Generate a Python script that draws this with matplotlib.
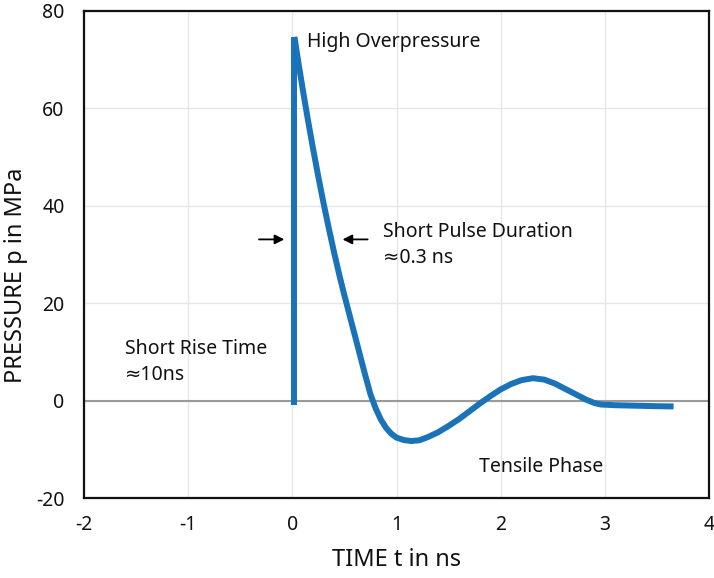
import matplotlib
matplotlib.use("Agg")
import matplotlib.pyplot as plt

# Pressure pulse data (time in ns, pressure in MPa)
rise_t = [0.02, 0.02]
rise_p = [-1.0, 74.7]

pulse_t = [0.02, 0.06, 0.10, 0.15, 0.20, 0.25, 0.30, 0.35, 0.40, 0.45, 0.50,
           0.55, 0.60, 0.65, 0.70, 0.75, 0.80, 0.85, 0.90, 0.95, 1.00, 1.07,
           1.14, 1.22, 1.30, 1.40, 1.50, 1.60, 1.70, 1.80, 1.90, 2.00, 2.10,
           2.20, 2.31, 2.42, 2.52, 2.62, 2.72, 2.82, 2.90, 2.96, 3.10, 3.30,
           3.50, 3.66]
pulse_p = [74.7, 69.2, 63.9, 57.6, 51.6, 45.9, 40.5, 35.4, 30.5, 25.9, 21.6,
           17.5, 13.4, 9.3, 5.2, 1.3, -1.6, -3.9, -5.6, -6.8, -7.6, -8.1,
           -8.3, -8.15, -7.5, -6.5, -5.2, -3.8, -2.2, -0.6, 0.9, 2.3, 3.4,
           4.2, 4.6, 4.3, 3.5, 2.4, 1.3, 0.2, -0.5, -0.8, -0.95, -1.05,
           -1.15, -1.2]

x_ticks = [-2, -1, 0, 1, 2, 3, 4]
y_ticks = [-20, 0, 20, 40, 60, 80]

plt.rcParams['font.family'] = ['Noto Sans', 'DejaVu Sans']

fig = plt.figure(figsize=(7.14, 5.78), dpi=100)
ax = fig.add_axes([84/714, 80/578, (709-84)/714, (498-11)/578])

blue = '#1a73b8'
ax.axhline(0, color='#9a9a9a', lw=1.5, zorder=1)
ax.plot(rise_t, rise_p, color=blue, lw=4.3, solid_capstyle='butt', zorder=3)
ax.plot(pulse_t, pulse_p, color=blue, lw=4.3, solid_joinstyle='round',
        solid_capstyle='butt', zorder=3)

ax.set_xlim(-2, 4)
ax.set_ylim(-20, 80)
ax.set_xticks(x_ticks)
ax.set_yticks(y_ticks)
ax.set_xticklabels([str(v) for v in x_ticks])
ax.set_yticklabels([str(v) for v in y_ticks])
ax.grid(True, color='#e6e6e6', lw=1.0, zorder=0)
ax.set_axisbelow(True)
ax.tick_params(length=0, labelsize=14, pad=12, colors='#111111')
ax.tick_params(axis='y', pad=14)
for s in ax.spines.values():
    s.set_linewidth(1.6)
    s.set_color('#111111')

ax.set_xlabel('TIME t in ns', fontsize=17, color='#111111')
ax.set_ylabel('PRESSURE p in MPa', fontsize=17, color='#111111')
ax.xaxis.set_label_coords(0.5, -0.127)
ax.xaxis.label.set_va('center')
ax.yaxis.set_label_coords(-0.108, 0.458)
ax.yaxis.label.set_va('center')

txt_kw = dict(fontsize=14, color='#111111', va='center', ha='left')
ax.text(0.145, 73.7, 'High Overpressure', **txt_kw)
ax.text(0.87, 32.0, 'Short Pulse Duration\n≈0.3 ns', linespacing=1.4, **txt_kw)
ax.text(-1.61, 8.0, 'Short Rise Time\n≈10ns', linespacing=1.4, **txt_kw)
ax.text(1.79, -13.6, 'Tensile Phase', **txt_kw)

arrow_kw = dict(arrowstyle='-|>', color='black', lw=1.3, mutation_scale=14,
                shrinkA=0, shrinkB=0)
ax.annotate('', xy=(-0.077, 33.1), xytext=(-0.32, 33.1), arrowprops=arrow_kw)
ax.annotate('', xy=(0.482, 33.1), xytext=(0.723, 33.1), arrowprops=arrow_kw)

fig.savefig('out.png', dpi=100)
